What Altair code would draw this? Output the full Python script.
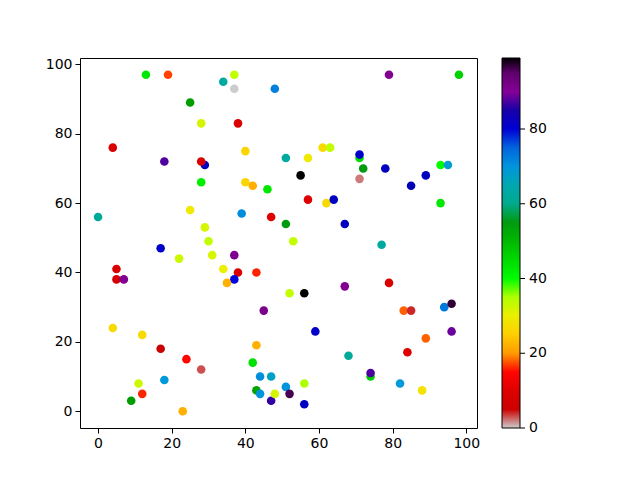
import altair as alt
import pandas as pd

x = [13, 19, 34, 37, 37, 48, 25, 28, 38, 4, 18, 29, 28, 40, 28, 40, 42, 46, 0, 39,
     47, 25, 29, 30, 17, 22, 31, 37, 5, 5, 7, 34, 38, 37, 35, 43, 45, 4, 12, 17,
     24, 28, 43, 42, 44, 47, 43, 44, 47, 48, 11, 12, 9, 18, 23, 79, 98, 55, 51, 57,
     61, 63, 71, 71, 72, 78, 71, 93, 95, 89, 85, 57, 62, 64, 93, 51, 67, 53, 77, 52,
     56, 67, 79, 83, 85, 94, 96, 59, 96, 89, 68, 84, 74, 74, 82, 88, 51, 52, 56, 56]
y = [97, 97, 95, 97, 93, 93, 89, 83, 83, 76, 72, 71, 72, 75, 66, 66, 65, 64, 56, 57,
     56, 58, 53, 49, 47, 44, 45, 45, 41, 38, 38, 41, 40, 38, 37, 40, 29, 24, 22, 18,
     15, 12, 19, 14, 10, 10, 6, 5, 3, 5, 8, 5, 3, 9, 0, 97, 97, 68, 73, 73,
     76, 76, 73, 74, 70, 70, 67, 71, 71, 68, 65, 61, 60, 61, 60, 54, 54, 49, 48, 34,
     34, 36, 37, 29, 29, 30, 31, 23, 23, 21, 16, 17, 10, 11, 8, 6, 7, 5, 8, 2]
c = [43, 17, 63, 34, 0, 73, 54, 32, 9, 9, 87, 82, 9, 26, 42, 26, 22, 43, 62, 71,
     10, 29, 32, 34, 81, 33, 32, 92, 9, 8, 91, 30, 9, 79, 22, 16, 93, 27, 27, 5,
     15, 3, 22, 44, 71, 67, 53, 70, 86, 32, 33, 16, 54, 69, 22, 91, 46, 99, 63, 29,
     27, 34, 45, 81, 55, 82, 2, 40, 68, 82, 83, 10, 27, 82, 43, 55, 82, 34, 63, 34,
     99, 91, 9, 18, 4, 74, 97, 81, 88, 18, 62, 10, 47, 87, 69, 28, 70, 96, 35, 82]

x_ticks = [0, 20, 40, 60, 80, 100]
y_ticks = [0, 20, 40, 60, 80, 100]
cbar_ticks = [0, 20, 40, 60, 80]

# nipy_spectral_r colour stops
spectral = [
    (0.0, 0.0, 0.0), (0.4667, 0.0, 0.5333), (0.5333, 0.0, 0.6), (0.0, 0.0, 0.6667),
    (0.0, 0.0, 0.8667), (0.0, 0.4667, 0.8667), (0.0, 0.6, 0.8667), (0.0, 0.6667, 0.6667),
    (0.0, 0.6667, 0.5333), (0.0, 0.6, 0.0), (0.0, 0.7333, 0.0), (0.0, 0.8667, 0.0),
    (0.0, 1.0, 0.0), (0.7333, 1.0, 0.0), (0.9333, 0.9333, 0.0), (1.0, 0.8, 0.0),
    (1.0, 0.6, 0.0), (1.0, 0.0, 0.0), (0.8667, 0.0, 0.0), (0.8, 0.0, 0.0), (0.8, 0.8, 0.8)]
rev = spectral[::-1]
cmin, cmax = 0, 99
n = len(rev)
dom = [cmin + (cmax - cmin) * i / (n - 1) for i in range(n)]
rng = ["#%02x%02x%02x" % tuple(int(round(v * 255)) for v in col) for col in rev]

df = pd.DataFrame({"x": x, "y": y, "c": c})
tick_df = pd.DataFrame({"t": cbar_ticks})

points = alt.Chart(df).mark_circle(size=74, opacity=1).encode(
    x=alt.X("x:Q", scale=alt.Scale(domain=[-4.9, 102.9], nice=False, zero=False),
            axis=alt.Axis(values=x_ticks, title=None, grid=False)),
    y=alt.Y("y:Q", scale=alt.Scale(domain=[-4.85, 101.85], nice=False, zero=False),
            axis=alt.Axis(values=y_ticks, title=None, grid=False)),
    color=alt.Color("c:Q", scale=alt.Scale(domain=dom, range=rng, interpolate="rgb"),
                    legend=alt.Legend(title=None, orient="none", legendX=422, legendY=0,
                                      gradientLength=370, gradientThickness=18,
                                      values=[cmin], direction="vertical",
                                      gradientStrokeColor="black", gradientStrokeWidth=1,
                                      labelExpr="''", labelFontSize=1)),
)

cb_scale = alt.Scale(domain=[cmin, cmax], nice=False, zero=False)
cbar_base = alt.Chart(tick_df)
cbar_tick_marks = cbar_base.mark_rule(color="black", strokeWidth=1).encode(
    x=alt.value(440), x2=alt.value(445),
    y=alt.Y("t:Q", scale=cb_scale, axis=None),
)
cbar_labels = cbar_base.mark_text(align="left", baseline="middle", fontSize=14,
                                  font="DejaVu Sans", color="black").encode(
    x=alt.value(449),
    y=alt.Y("t:Q", scale=cb_scale, axis=None),
    text=alt.Text("t:Q"),
)
cbar = alt.layer(cbar_tick_marks, cbar_labels)

chart = alt.layer(points, cbar).resolve_scale(y="independent").properties(
    width=397, height=370,
    autosize=alt.AutoSizeParams(type="none"),
    padding={"left": 72, "top": 50, "right": 155, "bottom": 44},
).configure_view(
    stroke="black", strokeWidth=1
).configure_axis(
    domain=False, tickColor="black", tickSize=5, tickWidth=1,
    labelFont="DejaVu Sans", labelFontSize=14, labelColor="black", labelPadding=3
)

chart.save("out.html", embed_options={"renderer": "svg", "actions": False})
